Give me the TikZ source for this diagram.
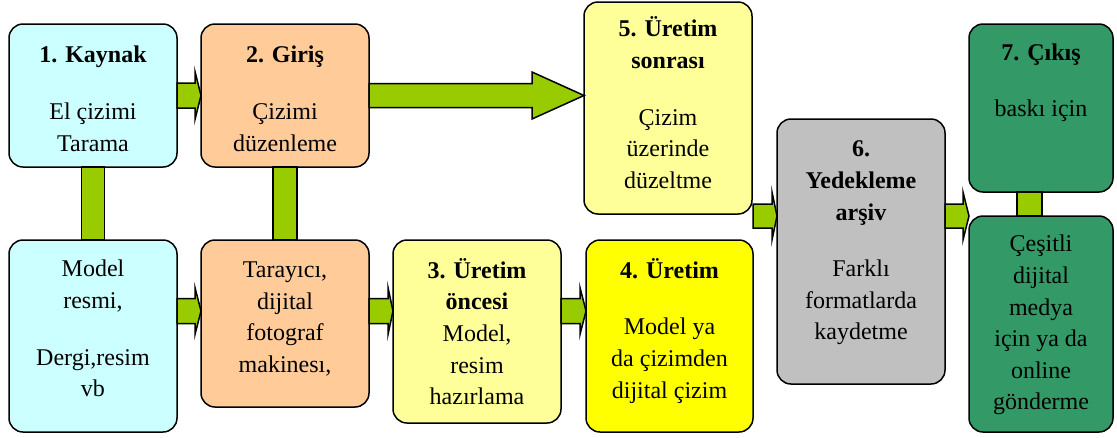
\documentclass[tikz,border=0pt]{standalone}
\usepackage{fontspec}
\setmainfont{Liberation Serif}
\newfontfamily\tnr{Liberation Serif}
\usetikzlibrary{calc}
\definecolor{cyanbox}{HTML}{CCFFFF}
\definecolor{orangebox}{HTML}{FFCC99}
\definecolor{lyellowbox}{HTML}{FFFF99}
\definecolor{yellowbox}{HTML}{FFFF00}
\definecolor{graybox}{HTML}{C0C0C0}
\definecolor{greenbox}{HTML}{339966}
\definecolor{arrowgreen}{HTML}{99CC00}
\newcommand\fstrut{\rule{0pt}{22pt}}
\newcommand\blockarrow[5]{%
  \draw[barrow] ($(#1)+(0,-#3)$) -- ($(#2)+(-#5,-#3)$) -- ($(#2)+(-#5,-#4)$) -- (#2)
    -- ($(#2)+(-#5,#4)$) -- ($(#2)+(-#5,#3)$) -- ($(#1)+(0,#3)$) -- cycle;}
\tikzset{
  box/.style={draw=black, line width=1.5pt, rounded corners=14pt, inner sep=0pt, outer sep=0pt},
  txt/.style={anchor=north, align=center, inner sep=0pt, text=black, font=\tnr\fontsize{24}{31.6}\selectfont},
  barrow/.style={draw=black, line width=1.5pt, fill=arrowgreen, line join=miter},
  conn/.style={draw=black, line width=1.5pt, fill=arrowgreen},
}
\begin{document}
\begin{tikzpicture}[x=1pt,y=-1pt]
\useasboundingbox (0,0) rectangle (1117,437);
% boxes
\node[box, fill=cyanbox, minimum width=168pt, minimum height=143pt] (b1) at (93,95.5) {};
\node[box, fill=cyanbox, minimum width=168pt, minimum height=192pt] (b1b) at (93,336) {};
\node[box, fill=orangebox, minimum width=168pt, minimum height=143pt] (b2) at (285,95.5) {};
\node[box, fill=orangebox, minimum width=168pt, minimum height=167pt] (b2b) at (285,323.5) {};
\node[box, fill=lyellowbox, minimum width=168pt, minimum height=212pt] (b5) at (668,108) {};
\node[box, fill=lyellowbox, minimum width=168pt, minimum height=183pt] (b3) at (477,331.5) {};
\node[box, fill=yellowbox, minimum width=167pt, minimum height=192pt] (b4) at (669.5,336) {};
\node[box, fill=graybox, minimum width=168pt, minimum height=265pt] (b6) at (861,251.5) {};
\node[box, fill=greenbox, minimum width=144pt, minimum height=168pt] (b7) at (1041,108) {};
\node[box, fill=greenbox, minimum width=144pt, minimum height=216pt] (b7b) at (1041,324) {};
% vertical connectors
\draw[conn] ($(b1.south)+(-11.5,0)$) rectangle ($(b1b.north)+(11.5,0)$);
\draw[conn] ($(b2.south)+(-12,0)$) rectangle ($(b2b.north)+(12,0)$);
\draw[conn] ($(b7.south)+(-24,0)$) rectangle ($(b7b.north)+(1,0)$);
% arrow rows
\coordinate (r2) at (0,311);
\coordinate (r3) at (0,216);
\coordinate (s25) at (b5.west |- b2.east);
\coordinate (p1) at (b1b.east |- r2);
\coordinate (q1) at (b2b.west |- r2);
\coordinate (p2) at (b2b.east |- r2);
\coordinate (q2) at (b3.west |- r2);
\coordinate (p3) at (b3.east |- r2);
\coordinate (q3) at (b4.west |- r2);
\coordinate (p4) at (b4.east |- r3);
\coordinate (q4) at (b6.west |- r3);
\coordinate (p5) at (b6.east |- r3);
\coordinate (q5) at (b7.west |- r3);
\blockarrow{b1.east}{b2.west}{12.5}{24}{6}
\blockarrow{b2.east}{s25}{12}{23.5}{52}
\blockarrow{p1}{q1}{12.5}{23.5}{6}
\blockarrow{p2}{q2}{12.5}{23.5}{5}
\blockarrow{p3}{q3}{12.5}{23.5}{6}
\blockarrow{p4}{q4}{12}{24}{5}
\blockarrow{p5}{q5}{12}{24}{6}
% texts
\node[txt] (t1) at (93,40.7) {\fstrut\textbf{1. Kaynak}\\[25pt] El çizimi\\ Tarama};
\node[txt] (t2) at (285,40.7) {\fstrut\textbf{2. Giriş}\\[25pt] Çizimi\\ düzenleme};
\node[txt] (t1b) at (93,254.7) {\fstrut Model\\ resmi,\\[25pt] Dergi,resim\\ vb};
\node[txt] (t2b) at (285,255.3) {\fstrut Tarayıcı,\\ dijital\\ fotograf\\ makinesı,};
\node[txt] (t3) at (477,256) {\fstrut\textbf{3. Üretim}\\ \textbf{öncesi}\\ Model,\\ resim\\ hazırlama};
\node[txt] (t4) at (669.5,256) {\fstrut\textbf{4. Üretim}\\[25pt] Model ya\\ da çizimden\\ dijital çizim};
\node[txt] (t5) at (668,14.7) {\fstrut\textbf{5. Üretim}\\ \textbf{sonrası}\\[25pt] Çizim\\ üzerinde\\ düzeltme};
\node[txt] (t6) at (861,134.7) {\fstrut\textbf{6.}\\ \textbf{Yedekleme}\\ \textbf{arşiv}\\[25pt] Farklı\\ formatlarda\\ kaydetme};
\node[txt] (t7) at (1041,38) {\fstrut\textbf{7. Çıkış}\\[25pt] baskı için};
\node[txt] (t7b) at (1041,229.7) {\fstrut Çeşitli\\ dijital\\ medya\\ için ya da\\ online\\ gönderme};
\end{tikzpicture}
\end{document}
